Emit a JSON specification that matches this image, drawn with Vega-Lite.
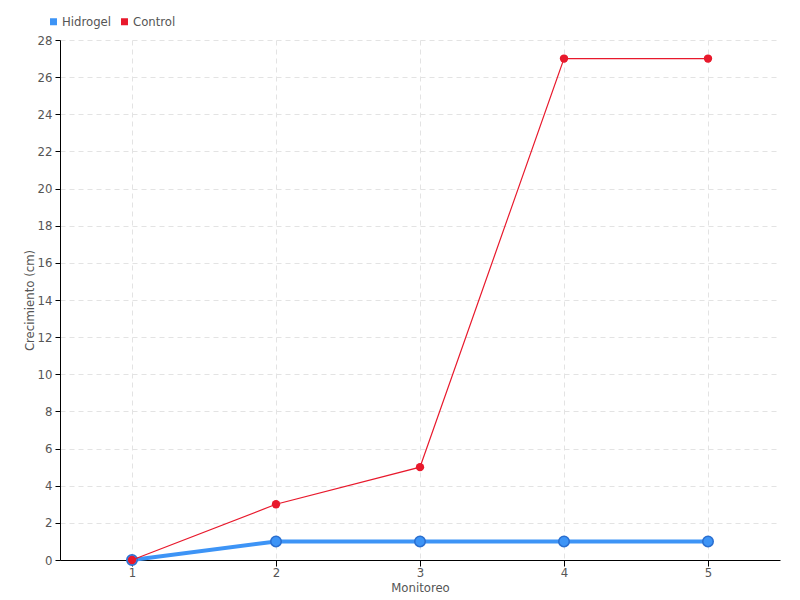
{
  "$schema": "https://vega.github.io/schema/vega-lite/v6.json",
  "width": 720,
  "height": 520,
  "autosize": "none",
  "padding": {"left": 60, "top": 40, "right": 20, "bottom": 40},
  "background": "white",
  "config": {
    "font": "DejaVu Sans Condensed, Roboto, sans-serif",
    "view": {"stroke": null},
    "axis": {
      "labelFont": "DejaVu Sans Condensed, Roboto, sans-serif",
      "titleFont": "DejaVu Sans Condensed, Roboto, sans-serif",
      "labelColor": "#555555",
      "titleColor": "#555555",
      "labelFontSize": 13,
      "titleFontSize": 13,
      "titleFontWeight": "normal",
      "domainColor": "#000000",
      "tickColor": "#000000",
      "gridColor": "#e3e3e3",
      "gridDash": [5, 4]
    }
  },
  "data": {
    "values": [
      {"Monitoreo": "1", "serie": "Hidrogel", "valor": 0},
      {"Monitoreo": "2", "serie": "Hidrogel", "valor": 1},
      {"Monitoreo": "3", "serie": "Hidrogel", "valor": 1},
      {"Monitoreo": "4", "serie": "Hidrogel", "valor": 1},
      {"Monitoreo": "5", "serie": "Hidrogel", "valor": 1},
      {"Monitoreo": "1", "serie": "Control", "valor": 0},
      {"Monitoreo": "2", "serie": "Control", "valor": 3},
      {"Monitoreo": "3", "serie": "Control", "valor": 5},
      {"Monitoreo": "4", "serie": "Control", "valor": 27},
      {"Monitoreo": "5", "serie": "Control", "valor": 27}
    ]
  },
  "encoding": {
    "x": {
      "field": "Monitoreo",
      "type": "ordinal",
      "scale": {"type": "point", "padding": 0.5},
      "axis": {"labelAngle": 0, "grid": true, "title": "Monitoreo", "titlePadding": 2, "labelPadding": 0, "tickSize": 6}
    },
    "y": {
      "field": "valor",
      "type": "quantitative",
      "scale": {"domain": [0, 28], "nice": false},
      "axis": {"values": [0,2,4,6,8,10,12,14,16,18,20,22,24,26,28], "title": "Crecimiento (cm)", "titlePadding": 1, "tickSize": 5, "labelPadding": 3}
    },
    "color": {
      "field": "serie",
      "type": "nominal",
      "scale": {"domain": ["Hidrogel", "Control"], "range": ["#3d94f6", "#e8192c"]},
      "legend": {
        "title": null,
        "orient": "none",
        "legendX": -13,
        "legendY": -25,
        "direction": "horizontal",
        "symbolType": "square",
        "symbolSize": 30,
        "labelFontSize": 13,
        "labelColor": "#555555",
        "labelFont": "DejaVu Sans Condensed, Roboto, sans-serif",
        "columnPadding": 6,
        "symbolOffset": 0,
        "labelOffset": 2
      }
    }
  },
  "layer": [
    {
      "transform": [{"filter": "datum.serie === 'Hidrogel'"}],
      "mark": {"type": "line", "strokeWidth": 4, "color": "#3d94f6"}
    },
    {
      "transform": [{"filter": "datum.serie === 'Hidrogel'"}],
      "mark": {"type": "point", "filled": true, "size": 110, "color": "#3d94f6", "stroke": "#2a6fd0", "strokeWidth": 1.5, "opacity": 1}
    },
    {
      "transform": [{"filter": "datum.serie === 'Control'"}],
      "mark": {"type": "line", "strokeWidth": 1.2, "color": "#ff4b5c"}
    },
    {
      "transform": [{"filter": "datum.serie === 'Control'"}],
      "mark": {"type": "point", "filled": true, "size": 70, "color": "#e8192c", "opacity": 1}
    }
  ]
}
